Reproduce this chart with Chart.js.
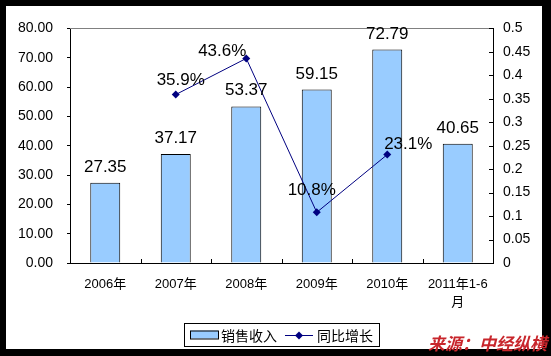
<!DOCTYPE html>
<html>
<head>
<meta charset="utf-8">
<script src="https://cdn.jsdelivr.net/npm/chart.js@4/dist/chart.umd.min.js"></script>
<style>
  html, body { margin: 0; padding: 0; }
  body { width: 551px; height: 356px; background: #000; position: relative; overflow: hidden; }
  #wrap { position: absolute; left: 6px; top: 6px; width: 536px; height: 343px; background: #fff; }
  #source { position: absolute; left: 428px; top: 334px; font: italic bold 17px/17px "Noto Sans CJK SC", sans-serif; color: #c8262c; white-space: nowrap; z-index: 2; }
</style>
</head>
<body>
<div id="wrap"><canvas id="c" width="536" height="343"></canvas></div>
<div id="source">来源：中经纵横</div>
<script>
// ---- data ----
const categories = ['2006年', '2007年', '2008年', '2009年', '2010年', ['2011年1-6', '月']];
const salesRevenue = [27.35, 37.17, 53.37, 59.15, 72.79, 40.65];
const growthRate = [null, 0.359, 0.436, 0.108, 0.231, null];
const seriesNames = ['销售收入', '同比增长'];
const leftAxis = { min: 0, max: 80, step: 10 };
const rightAxis = { min: 0, max: 0.5, step: 0.05 };

const FONT = '"Liberation Sans", "Noto Sans CJK SC", sans-serif';
const BAR_COLOR = '#99ccff';
const LINE_COLOR = '#000080';

const labelPlugin = {
  id: 'valueLabels',
  beforeDatasetsDraw(chart) {
    const { ctx, chartArea } = chart;
    ctx.save();
    ctx.strokeStyle = '#808080';
    ctx.lineWidth = 1;
    ctx.beginPath();
    ctx.moveTo(chartArea.left, Math.round(chartArea.top) + 0.5);
    ctx.lineTo(chartArea.right, Math.round(chartArea.top) + 0.5);
    ctx.stroke();
    // category tick marks on x axis (inside)
    const xs = chart.scales.x;
    const n = categories.length;
    ctx.strokeStyle = '#000';
    ctx.beginPath();
    for (let i = 0; i <= n; i++) {
      const px = i < n ? xs.getPixelForValue(i) - (xs.width / n) / 2 : xs.getPixelForValue(n - 1) + (xs.width / n) / 2;
      const xx = Math.round(px) + 0.5;
      ctx.moveTo(xx, chartArea.bottom);
      ctx.lineTo(xx, chartArea.bottom - 4);
    }
    // right axis tick marks (inside)
    const ys = chart.scales.y1;
    ys.ticks.forEach(t => {
      const yy = Math.round(ys.getPixelForValue(t.value)) + 0.5;
      ctx.moveTo(chartArea.right, yy);
      ctx.lineTo(chartArea.right - 4, yy);
    });
    ctx.stroke();
    ctx.restore();
  },
  afterDatasetsDraw(chart, args, opts) {
    const { ctx } = chart;
    ctx.save();
    ctx.fillStyle = '#000';
    ctx.font = '17px ' + FONT;
    ctx.textAlign = 'center';
    ctx.textBaseline = 'alphabetic';
    const barMeta = chart.getDatasetMeta(0);
    barMeta.data.forEach((el, i) => {
      ctx.fillText(salesRevenue[i].toFixed(2), el.x, el.y - 11);
    });
    const lineMeta = chart.getDatasetMeta(1);
    lineMeta.data.forEach((el, i) => {
      const v = growthRate[i];
      if (v === null) return;
      const off = opts.offsets[i];
      ctx.fillText((v * 100).toFixed(1) + '%', el.x + off[0], el.y + off[1]);
    });
    ctx.restore();
  }
};

const legendPlugin = {
  id: 'boxLegend',
  afterDraw(chart) {
    const { ctx, chartArea } = chart;
    ctx.save();
    ctx.font = '14px "Noto Sans CJK SC", ' + FONT;
    const w1 = ctx.measureText(seriesNames[0]).width;
    const w2 = ctx.measureText(seriesNames[1]).width;
    const total = 6 + 28 + 3 + w1 + 8 + 28 + 4 + w2 + 6;
    const left = Math.round((chartArea.left + chartArea.right) / 2 - total / 2);
    const top = 317, h = 23;
    const cy = top + h / 2;
    ctx.strokeStyle = '#000';
    ctx.lineWidth = 1;
    ctx.strokeRect(left + 0.5, top + 0.5, total, h);
    let x = left + 6;
    ctx.fillStyle = BAR_COLOR;
    ctx.fillRect(x, cy - 4, 28, 8);
    ctx.strokeRect(x + 0.5, cy - 4 + 0.5, 28, 8);
    x += 28 + 3;
    ctx.fillStyle = '#000';
    ctx.textBaseline = 'middle';
    ctx.textAlign = 'left';
    ctx.fillText(seriesNames[0], x, cy + 1);
    x += w1 + 8;
    ctx.strokeStyle = LINE_COLOR;
    ctx.beginPath();
    ctx.moveTo(x, Math.round(cy) + 0.5);
    ctx.lineTo(x + 28, Math.round(cy) + 0.5);
    ctx.stroke();
    ctx.fillStyle = LINE_COLOR;
    ctx.beginPath();
    const mx = x + 14, my = Math.round(cy) + 0.5;
    ctx.moveTo(mx, my - 4); ctx.lineTo(mx + 4, my); ctx.lineTo(mx, my + 4); ctx.lineTo(mx - 4, my);
    ctx.closePath(); ctx.fill();
    x += 28 + 4;
    ctx.fillStyle = '#000';
    ctx.fillText(seriesNames[1], x, cy + 1);
    ctx.restore();
  }
};

new Chart(document.getElementById('c'), {
  data: {
    labels: categories,
    datasets: [
      {
        type: 'bar',
        label: seriesNames[0],
        data: salesRevenue,
        yAxisID: 'y',
        backgroundColor: BAR_COLOR,
        borderColor: '#000',
        borderWidth: 1,
        borderSkipped: 'bottom',
        categoryPercentage: 1,
        barPercentage: 0.425,
        order: 2
      },
      {
        type: 'line',
        label: seriesNames[1],
        data: growthRate,
        yAxisID: 'y1',
        borderColor: LINE_COLOR,
        backgroundColor: LINE_COLOR,
        borderWidth: 1,
        pointStyle: 'rectRot',
        pointRadius: 4,
        pointBorderWidth: 0,
        tension: 0,
        spanGaps: false,
        order: 1
      }
    ]
  },
  options: {
    responsive: false,
    animation: false,
    layout: { padding: { top: 22, left: 0, right: 0, bottom: 0 } },
    plugins: {
      legend: { display: false },
      tooltip: { enabled: false },
      valueLabels: { offsets: [[0, 0], [5, -10], [-24, -2], [-5, -17], [21, -6], [0, 0]] }
    },
    scales: {
      x: {
        type: 'category',
        offset: true,
        grid: { display: false, drawTicks: false },
        border: { display: true, color: '#000', width: 1 },
        ticks: { color: '#000', font: { family: FONT, size: 13, lineHeight: 1.4 }, padding: 12, maxRotation: 0, autoSkip: false },
        afterFit(s) { s.height = 86; }
      },
      y: {
        position: 'left',
        min: leftAxis.min, max: leftAxis.max,
        grid: { display: true, drawOnChartArea: false, drawTicks: true, tickLength: 3, color: '#000' },
        border: { display: true, color: '#000', width: 1 },
        ticks: { stepSize: leftAxis.step, color: '#000', font: { family: FONT, size: 14 }, padding: 14, callback: v => Number(v).toFixed(2) },
        afterFit(s) { s.width = 64; }
      },
      y1: {
        position: 'right',
        min: rightAxis.min, max: rightAxis.max,
        grid: { display: false, drawTicks: false },
        border: { display: true, color: '#000', width: 1 },
        ticks: { stepSize: rightAxis.step, color: '#000', font: { family: FONT, size: 14 }, padding: 10, callback: v => String(+Number(v).toFixed(2)) },
        afterFit(s) { s.width = 49; }
      }
    }
  },
  plugins: [labelPlugin, legendPlugin]
});
</script>
</body>
</html>
